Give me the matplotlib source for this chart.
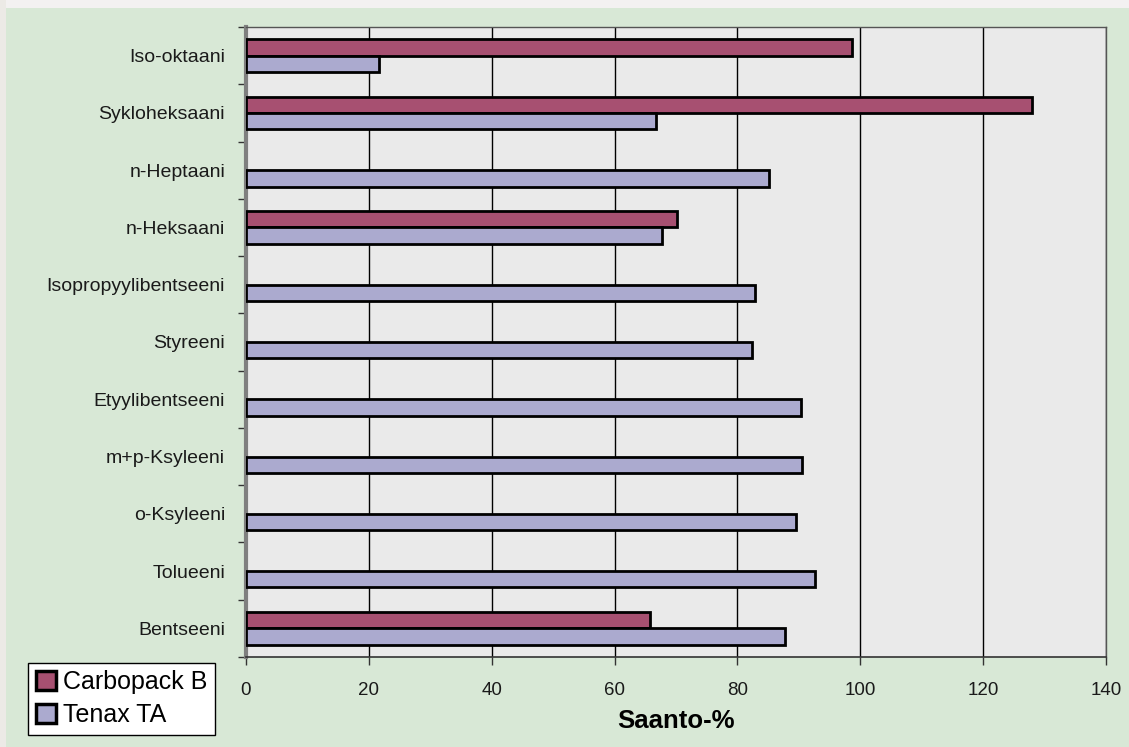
import numpy as np
import matplotlib
matplotlib.use('Agg')
import matplotlib.pyplot as plt
from matplotlib.patches import Patch, Rectangle

plt.rcParams['font.family'] = ['Liberation Sans', 'DejaVu Sans']

# Yhdisteet alhaalta ylos
yhdisteet = ['Bentseeni', 'Tolueeni', 'o-Ksyleeni', 'm+p-Ksyleeni', 'Etyylibentseeni',
             'Styreeni', 'Isopropyylibentseeni', 'n-Heksaani', 'n-Heptaani',
             'Sykloheksaani', 'Iso-oktaani']
carbopack_b = [65.7, np.nan, np.nan, np.nan, np.nan, np.nan, np.nan, 70.1, np.nan, 127.9, 98.6]
tenax_ta = [87.8, 92.7, 89.6, 90.5, 90.4, 82.3, 82.8, 67.8, 85.1, 66.7, 21.7]
x_ticks = [0, 20, 40, 60, 80, 100, 120, 140]

vari_cb = '#A75071'
vari_tx = '#ABAACF'
tausta = '#D8E8D6'

fig = plt.figure(figsize=(11.29, 7.47), dpi=100, facecolor=tausta)
# reunat
fig.patches.append(Rectangle((0, 1 - 8 / 747), 1, 8 / 747, transform=fig.transFigure,
                             facecolor='#F3F1F1', edgecolor='none', zorder=0))
fig.patches.append(Rectangle((0, 0), 6 / 1129, 1, transform=fig.transFigure,
                             facecolor='#ECEAE6', edgecolor='none', zorder=0))

ax = fig.add_axes([246 / 1129, 1 - 657 / 747, 860 / 1129, 630 / 747])
ax.set_facecolor('#EAEAEA')

y = np.arange(len(yhdisteet))
h = 0.285
ax.barh(y + h / 2, carbopack_b, height=h, color=vari_cb, edgecolor='black', linewidth=2, zorder=3)
ax.barh(y - h / 2, tenax_ta, height=h, color=vari_tx, edgecolor='black', linewidth=2, zorder=3)

ax.set_xlim(0, 140)
ax.set_ylim(-0.5, len(yhdisteet) - 0.5)
ax.set_xticks(x_ticks)
ax.set_xticklabels([str(v) for v in x_ticks], fontsize=13.5, color='#1a1a1a')
ax.set_yticks(y)
ax.set_yticklabels(yhdisteet, fontsize=14, color='#1a1a1a')
ax.set_yticks(np.arange(-0.5, len(yhdisteet)), minor=True)
ax.tick_params(axis='y', which='major', length=0, pad=15)
ax.tick_params(axis='y', which='minor', length=6, width=1, color='#333333')
ax.tick_params(axis='x', length=6, width=1, color='#333333', pad=12)

ax.xaxis.grid(True, color='black', linewidth=1)
ax.set_axisbelow(True)

ax.spines['left'].set_color('#7F7F7F')
ax.spines['left'].set_linewidth(3)
ax.spines['bottom'].set_color('#333333')
ax.spines['bottom'].set_linewidth(1.2)
for s in ['top', 'right']:
    ax.spines[s].set_color('#555555')
    ax.spines[s].set_linewidth(1)

ax.set_xlabel('Saanto-%', fontsize=18.5, fontweight='bold', labelpad=7)

handles = [Patch(facecolor=vari_cb, edgecolor='black', linewidth=2.5, label='Carbopack B'),
           Patch(facecolor=vari_tx, edgecolor='black', linewidth=2.5, label='Tenax TA')]
leg = fig.legend(handles=handles, loc='upper left', bbox_to_anchor=(28 / 1129, 1 - 663 / 747),
                 fontsize=18, frameon=True, fancybox=False, framealpha=1,
                 handlelength=0.8, handleheight=0.8, handletextpad=0.3,
                 borderpad=0.3, labelspacing=0.35, borderaxespad=0)
leg.get_frame().set_edgecolor('black')
leg.get_frame().set_linewidth(1)
leg.get_frame().set_facecolor('white')

fig.savefig('out.png', dpi=100, facecolor=fig.get_facecolor())
